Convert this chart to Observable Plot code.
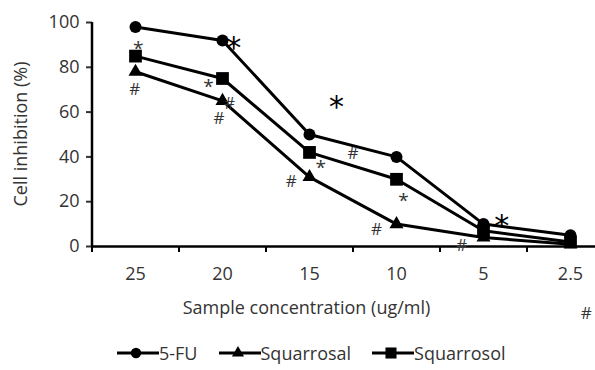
<!DOCTYPE html>
<html><head><meta charset="utf-8">
<script src="https://cdn.jsdelivr.net/npm/d3@7"></script>
<script src="https://cdn.jsdelivr.net/npm/@observablehq/plot@0.6"></script>
<style>
body{margin:0;background:#fff;font-family:"Open Sans",Lato,sans-serif;color:#333;}
#wrap{width:595px;height:370px;position:relative;overflow:hidden;}
#legend{display:flex;align-items:center;font-size:18px;padding-left:117px;margin-top:8px;line-height:20px;}
.item{display:flex;align-items:center;margin-right:21px;}
.item svg{display:block;}
</style></head>
<body><div id="wrap"><div id="chart"></div><div id="legend"></div></div>
<script>
const xLabels = ["25","20","15","10","5","2.5"];
const seriesNames = ["5-FU","Squarrosal","Squarrosol"];
const fu = [98,92,50,40,10,5];
const squarrosal = [78,65,31,10,4,1];
const squarrosol = [85,75,42,30,7,2];
const yTicks = [0,20,40,60,80,100];
const annoText = ["*","#","*","*","#","#","*","#","*","#","#","*","*","#","#"];
const annoX    = [0.03,-0.01,1.13,0.84,1.08,0.96,2.31,2.5,2.13,1.79,2.77,3.08,4.21,3.75,5.18];
const annoY    = [90,70,91,73,64,57,65,41.5,37,29,7.5,22,11.5,0.5,-30];
const annoBig  = [0,0,1,0,0,0,1,0,0,0,0,0,1,0,0];

const series = [fu, squarrosal, squarrosol];
const symbols = ["circle","triangle","square"];
const radii = [6,5.2,7.2];
const rows = [];
series.forEach((vals,s)=>vals.forEach((v,i)=>rows.push({s, i, v})));
const annos = annoText.map((t,k)=>({t, x:annoX[k], y:annoY[k], big:annoBig[k]}));
const bounds = d3.range(xLabels.length+1).map(i=>i-0.5);
const FONT = "'Open Sans', Lato, sans-serif";

const marks = [
  Plot.axisY({ticks:yTicks, tickSize:6, tickPadding:7, fontSize:18, label:null, strokeWidth:2, color:"#333"}),
  Plot.axisX({ticks:d3.range(xLabels.length), tickFormat:i=>xLabels[i], tickSize:0, tickPadding:21, fontSize:18, label:null, color:"#333"}),
  Plot.axisX({ticks:bounds, tickFormat:()=>"", tickSize:6, strokeWidth:2, label:null, stroke:"#000"}),
  Plot.ruleY([0], {x1:bounds[0], x2:bounds[bounds.length-1], stroke:"#000", strokeWidth:2.5}),
  Plot.ruleX([bounds[0]], {y1:0, y2:100, stroke:"#000", strokeWidth:2.5}),
];
series.forEach((vals,s)=>{
  const d = rows.filter(r=>r.s===s);
  marks.push(Plot.line(d, {x:"i", y:"v", stroke:"#000", strokeWidth:3}));
});
series.forEach((vals,s)=>{
  const d = rows.filter(r=>r.s===s);
  marks.push(Plot.dot(d, {x:"i", y:"v", symbol:()=>symbols[s], r:radii[s], fill:"#000", stroke:"none"}));
});
marks.push(Plot.text(annos.filter(a=>!a.big && a.t==="#"), {x:"x", y:"y", text:"t", fontSize:17, fill:"#333"}));
marks.push(Plot.text(annos.filter(a=>!a.big && a.t==="*"), {x:"x", y:"y", text:"t", fontSize:19, fill:"#333", dy:4}));
marks.push(Plot.text(annos.filter(a=>a.big), {x:"x", y:"y", text:"t", fontSize:30, fill:"#000", fontFamily:"DejaVu Sans", dy:6}));
marks.push(Plot.text(["Sample concentration (ug/ml)"], {frameAnchor:"bottom", dy:67, fontSize:18, fill:"#333"}));

const chart = Plot.plot({
  width:595, height:335,
  marginLeft:92, marginRight:75, marginTop:22, marginBottom:89,
  style:{fontFamily:FONT, background:"#fff", overflow:"visible"},
  x:{type:"linear", domain:[bounds[0], bounds[bounds.length-1]], range:[91.5, 613.5]},
  y:{domain:[0,100]},
  symbol:{type:"identity"},
  marks
});
document.getElementById("chart").appendChild(chart);
const svg = d3.select(chart);
svg.append("text").attr("transform","translate(22,134) rotate(-90)").attr("text-anchor","middle")
  .attr("dominant-baseline","middle").attr("font-size",18).attr("fill","#333").text("Cell inhibition (%)");

const leg = document.getElementById("legend");
seriesNames.forEach((n,s)=>{
  const it = document.createElement("div"); it.className="item";
  const sw = d3.create("svg").attr("width",42).attr("height",16);
  sw.append("line").attr("x1",0).attr("x2",42).attr("y1",8).attr("y2",8).attr("stroke","#000").attr("stroke-width",3);
  sw.append("path").attr("transform","translate(19,8)").attr("fill","#000")
    .attr("d", d3.symbol([d3.symbolCircle,d3.symbolTriangle,d3.symbolSquare][s], Math.PI*radii[s]*radii[s]*0.75)());
  it.appendChild(sw.node());
  const t = document.createElement("span"); t.textContent=n; it.appendChild(t);
  leg.appendChild(it);
});
</script></body></html>
